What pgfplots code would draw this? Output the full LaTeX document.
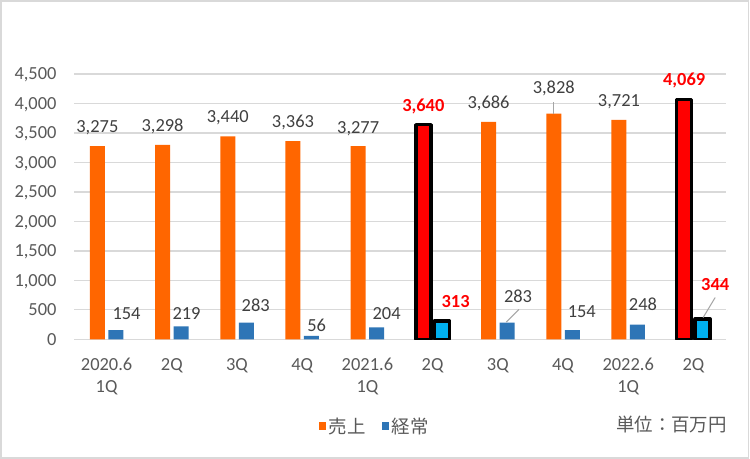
\documentclass[border=0pt]{standalone}
\usepackage{pgfplots}
\usepackage{pgfplotstable}
\pgfplotsset{compat=1.18}
\usepackage{fontspec}
\setmainfont{Carlito}
\newfontfamily\jp{Noto Sans CJK JP}
\definecolor{txt}{HTML}{595959}
\definecolor{lbl}{HTML}{404040}
\definecolor{gridc}{HTML}{D9D9D9}
\definecolor{org}{HTML}{FF6600}
\definecolor{blu}{HTML}{2E75B6}
\definecolor{cyn}{HTML}{00B0F0}

\pgfplotstableread{
x y dy
0 3275 13.5
1 3298 13.8
2 3440 13.8
3 3363 13.3
4 3277 13.0
6 3686 13.7
7 3828 20.3
8 3721 13.2
}\orangeN
\pgfplotstableread{
x y dy
5 3640 13.0
9 4069 14.0
}\orangeH
\pgfplotstableread{
x y dx dy
0 154 10.7 10.9
1 219 5.5 7.1
2 283 9.5 11.6
3 56 5.2 4.7
4 204 10.0 8.0
6 283 11.0 19.9
7 154 9.5 13.2
8 248 5.5 14.0
}\blueN
\pgfplotstableread{
x y dx dy
5 313 13.8 13.5
9 344 12.5 29.0
}\blueH

\begin{document}
\begin{tikzpicture}[x=1bp,y=1bp]
\fill[white] (0,0) rectangle (750,459);
\path[use as bounding box] (0,0) rectangle (750,459);
\draw[gridc, line width=1.3bp] (1,1) rectangle (748.5,458);
\begin{axis}[
  at={(74bp,119.7bp)}, anchor=south west,
  scale only axis, width=652bp, height=265.3bp,
  xmin=-0.5, xmax=9.5, ymin=0, ymax=4500,
  axis x line*=bottom, axis y line*=left,
  y axis line style={draw=none},
  x axis line style={gridc, line width=1.3bp},
  major tick length=0pt,
  ymajorgrids, grid style={gridc, line width=1.3bp},
  ytick={0,500,...,4500},
  xtick={0,...,9},
  xticklabels={{2020.6\\1Q},2Q,3Q,4Q,{2021.6\\1Q},2Q,3Q,4Q,{2022.6\\1Q},2Q},
  /pgf/number format/.cd, 1000 sep={,}, assume math mode=true, /pgfplots/.cd,
  yticklabel style={anchor=base east, inner sep=0pt, xshift=-17.3bp, yshift=-5.8bp, text=txt, font=\fontsize{18.5}{20}\selectfont},
  xticklabel style={anchor=north, align=center, inner sep=0pt, yshift=-18.7bp, text=txt, font=\fontsize{18.5}{22}\selectfont},
  ybar, bar width=15bp,
  legend style={at={(0.3715,-0.327)}, anchor=west, draw=none, fill=none, legend columns=2,
    font=\jp\fontsize{18.5}{20}\selectfont, text=txt,
    /tikz/every even column/.append style={column sep=14bp},
    nodes={inner sep=2.5bp}},
  legend image code/.code={\fill[#1] (0bp,-3.7bp) rectangle (7bp,3.7bp);},
]
\addlegendimage{fill=org, draw=none}
\addlegendentry{売上}
\addlegendimage{fill=blu, draw=none}
\addlegendentry{経常}

\addplot[forget plot, fill=org, draw=none, bar shift=-9.25bp,
  visualization depends on={\thisrow{dy}\as\dy},
  nodes near coords={\pgfmathprintnumber{\pgfplotspointmeta}},
  nodes near coords style={anchor=base, inner sep=0pt, yshift=\dy*1bp, text=lbl, font=\fontsize{18.5}{20}\selectfont}]
  table[x=x, y=y, meta=y]{\orangeN};
\addplot[forget plot, fill=red, draw=black, line width=3.5bp, line join=round, bar shift=-9.25bp,
  visualization depends on={\thisrow{dy}\as\dy},
  nodes near coords={\pgfmathprintnumber{\pgfplotspointmeta}},
  nodes near coords style={anchor=base, inner sep=0pt, yshift=\dy*1bp, text=red, font=\bfseries\fontsize{18.5}{20}\selectfont}]
  table[x=x, y=y, meta=y]{\orangeH};
\addplot[forget plot, fill=blu, draw=none, bar shift=9.25bp,
  visualization depends on={\thisrow{dx}\as\dx},
  visualization depends on={\thisrow{dy}\as\dy},
  nodes near coords={\pgfmathprintnumber{\pgfplotspointmeta}},
  nodes near coords style={anchor=base, inner sep=0pt, xshift=\dx*1bp, yshift=\dy*1bp, text=lbl, font=\fontsize{18.5}{20}\selectfont}]
  table[x=x, y=y, meta=y]{\blueN};
\addplot[forget plot, fill=cyn, draw=black, line width=3.5bp, line join=round, bar shift=9.25bp,
  visualization depends on={\thisrow{dx}\as\dx},
  visualization depends on={\thisrow{dy}\as\dy},
  nodes near coords={\pgfmathprintnumber{\pgfplotspointmeta}},
  nodes near coords style={anchor=base, inner sep=0pt, xshift=\dx*1bp, yshift=\dy*1bp, text=red, font=\bfseries\fontsize{18.5}{20}\selectfont}]
  table[x=x, y=y, meta=y]{\blueH};

% leader lines
\draw[gray!70, line width=1bp] ([xshift=-9.25bp]axis cs:7,3828) -- ++(0bp,11.6bp);
\draw[gray!70, line width=1bp] ([xshift=8.5bp, yshift=0.5bp]axis cs:6,283) -- ++(12.6bp,12.7bp);
\draw[gray!70, line width=1bp] ([xshift=9.75bp, yshift=1.5bp]axis cs:9,344) -- ++(12bp,20bp);
\end{axis}
\node[anchor=base east, inner sep=0pt, text=txt, font=\jp\fontsize{18.5}{20}\selectfont] at (727,27.5) {単位：百万円};
\end{tikzpicture}
\end{document}
